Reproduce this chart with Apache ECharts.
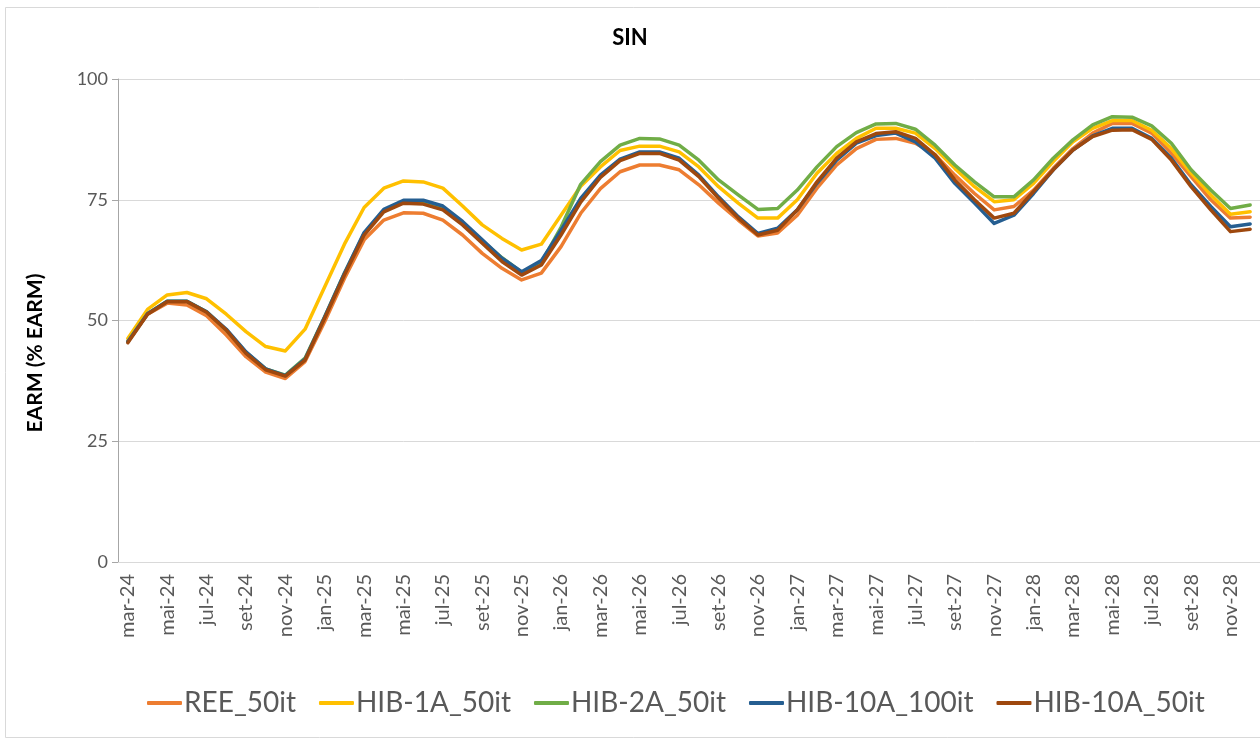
<!DOCTYPE html>
<html>
<head>
<meta charset="utf-8">
<script src="https://cdn.jsdelivr.net/npm/echarts@6/dist/echarts.min.js"></script>
<style>
  html, body { margin: 0; padding: 0; background: #fff; }
  #chart { width: 1260px; height: 740px; }
</style>
</head>
<body>
<div id="chart"></div>
<script>
// meses de mar-24 a dez-28
const months = [
  'mar-24', 'abr-24', 'mai-24', 'jun-24', 'jul-24', 'ago-24', 'set-24', 'out-24', 'nov-24', 'dez-24',
  'jan-25', 'fev-25', 'mar-25', 'abr-25', 'mai-25', 'jun-25', 'jul-25', 'ago-25', 'set-25', 'out-25', 'nov-25', 'dez-25',
  'jan-26', 'fev-26', 'mar-26', 'abr-26', 'mai-26', 'jun-26', 'jul-26', 'ago-26', 'set-26', 'out-26', 'nov-26', 'dez-26',
  'jan-27', 'fev-27', 'mar-27', 'abr-27', 'mai-27', 'jun-27', 'jul-27', 'ago-27', 'set-27', 'out-27', 'nov-27', 'dez-27',
  'jan-28', 'fev-28', 'mar-28', 'abr-28', 'mai-28', 'jun-28', 'jul-28', 'ago-28', 'set-28', 'out-28', 'nov-28', 'dez-28'
]

const ree50 = [
  45.8, 51.3, 53.6, 53.2, 51.0, 47.0, 42.5, 39.3, 38.0, 41.5,
  49.8, 58.7, 66.7, 70.8, 72.3, 72.2, 70.8, 67.7, 63.9, 60.8, 58.4, 59.8,
  65.3, 72.2, 77.3, 80.8, 82.2, 82.2, 81.2, 78.1, 74.3, 70.8, 67.5, 68.1,
  71.8, 77.4, 82.2, 85.6, 87.5, 87.7, 86.7, 84.3, 80.1, 76.3, 72.9, 73.6,
  77.0, 81.5, 85.6, 88.8, 90.8, 90.8, 88.8, 84.6, 79.8, 75.0, 71.2, 71.4
]
const hib1a50 = [
  46.3, 52.3, 55.3, 55.8, 54.5, 51.3, 47.7, 44.6, 43.7, 48.2,
  57.0, 65.8, 73.4, 77.4, 78.9, 78.7, 77.4, 73.7, 69.8, 67.0, 64.6, 65.8,
  71.8, 77.8, 81.8, 85.2, 86.1, 86.1, 84.9, 81.8, 77.7, 74.3, 71.2, 71.2,
  75.0, 80.5, 84.6, 87.7, 89.8, 89.8, 88.8, 85.6, 81.5, 77.7, 74.6, 75.0,
  78.4, 82.9, 87.0, 89.8, 91.4, 91.4, 89.4, 85.6, 80.5, 76.0, 72.0, 72.5
]
const hib2a50 = [
  45.6, 51.4, 54.0, 54.0, 51.8, 48.0, 43.4, 40.0, 38.7, 42.2,
  50.8, 59.8, 68.0, 72.8, 74.7, 74.7, 73.4, 70.0, 66.5, 63.0, 60.0, 62.0,
  69.3, 78.2, 82.9, 86.3, 87.7, 87.6, 86.3, 83.2, 79.1, 76.0, 73.0, 73.2,
  77.0, 81.8, 86.0, 88.9, 90.7, 90.8, 89.6, 86.3, 82.2, 78.7, 75.6, 75.6,
  79.1, 83.6, 87.4, 90.5, 92.2, 92.1, 90.3, 86.7, 81.2, 77.0, 73.2, 73.9
]
const hib10a100 = [
  45.6, 51.4, 54.0, 54.0, 51.8, 48.2, 43.5, 40.0, 38.6, 42.0,
  50.8, 59.8, 68.2, 73.0, 74.9, 74.9, 73.7, 70.5, 66.7, 62.9, 60.1, 62.4,
  68.7, 75.3, 80.1, 83.4, 84.9, 84.9, 83.6, 80.1, 75.6, 71.5, 68.0, 69.1,
  72.9, 78.4, 83.2, 86.7, 88.3, 88.8, 87.0, 83.6, 78.4, 74.3, 70.1, 71.8,
  76.3, 81.2, 85.3, 88.2, 89.8, 89.8, 87.7, 83.6, 78.1, 73.6, 69.4, 70.0
]
const hib10a50 = [
  45.4, 51.3, 53.9, 53.9, 51.7, 48.0, 43.2, 39.8, 38.5, 41.8,
  50.5, 59.4, 67.7, 72.5, 74.3, 74.1, 72.9, 69.8, 66.0, 62.2, 59.4, 61.5,
  67.7, 74.5, 79.6, 83.1, 84.6, 84.6, 83.2, 79.8, 75.3, 71.2, 67.7, 68.7,
  72.9, 78.7, 83.6, 87.0, 88.7, 89.1, 87.7, 84.3, 79.1, 75.0, 71.2, 72.2,
  76.7, 81.2, 85.3, 88.1, 89.4, 89.5, 87.5, 83.2, 77.7, 72.9, 68.4, 68.9
]

const FONT = 'Lato'
const TXT = '#595959'

function mkLine(name, data, color) {
  return {
    name: name,
    type: 'line',
    data: data,
    symbol: 'none',
    smooth: false,
    lineStyle: { color: color, width: 3.5, cap: 'round', join: 'round' },
    itemStyle: { color: color }
  }
}

let chart = echarts.init(document.getElementById('chart'))
chart.setOption({
  animation: false,
  backgroundColor: '#fff',
  textStyle: { fontFamily: FONT },
  title: {
    text: 'SIN',
    left: 'center',
    top: 22,
    textStyle: { fontFamily: FONT, fontSize: 22, fontWeight: 'bold', color: '#000' }
  },
  graphic: [
    {
      type: 'rect',
      shape: { x: 5.5, y: 7.5, width: 1262, height: 730 },
      style: { fill: null, stroke: '#D9D9D9', lineWidth: 1 },
      silent: true
    },
    {
      type: 'text',
      x: 35,
      y: 353,
      rotation: Math.PI / 2,
      style: {
        text: 'EARM (% EARM)',
        fontFamily: FONT,
        fontSize: 21,
        fontWeight: 'bold',
        fill: '#000',
        align: 'center',
        verticalAlign: 'middle'
      }
    }
  ],
  legend: {
    left: 142,
    top: 684,
    icon: 'roundRect',
    itemWidth: 35,
    itemHeight: 4,
    itemGap: 23,
    textStyle: { fontFamily: FONT, fontSize: 28, color: TXT, padding: [0, 0, 0, -3] },
    data: ['REE_50it', 'HIB-1A_50it', 'HIB-2A_50it', 'HIB-10A_100it', 'HIB-10A_50it']
  },
  grid: { left: 118, top: 79, width: 1145.5, height: 483 },
  xAxis: {
    type: 'category',
    data: months,
    boundaryGap: true,
    axisLine: { lineStyle: { color: '#D9D9D9', width: 1 } },
    axisTick: { show: false },
    axisLabel: {
      interval: 1,
      rotate: 90,
      margin: 12,
      fontFamily: FONT,
      fontSize: 20,
      color: TXT
    }
  },
  yAxis: {
    type: 'value',
    min: 0,
    max: 100,
    interval: 25,
    axisLine: { show: true, lineStyle: { color: '#A6A6A6', width: 1 } },
    axisTick: { show: true, length: 6, lineStyle: { color: '#A6A6A6' } },
    splitLine: { lineStyle: { color: '#D9D9D9', width: 1 } },
    axisLabel: { margin: 10, fontFamily: FONT, fontSize: 18, color: TXT }
  },
  series: [
    mkLine('REE_50it', ree50, '#ED7D31'),
    mkLine('HIB-1A_50it', hib1a50, '#FFC000'),
    mkLine('HIB-2A_50it', hib2a50, '#70AD47'),
    mkLine('HIB-10A_100it', hib10a100, '#255E91'),
    mkLine('HIB-10A_50it', hib10a50, '#9E480E')
  ]
})
</script>
</body>
</html>
